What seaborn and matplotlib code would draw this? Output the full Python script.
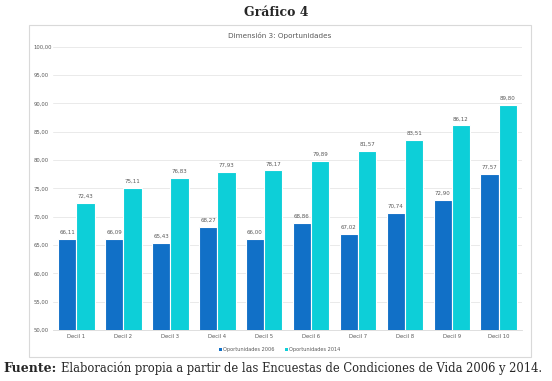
import matplotlib
matplotlib.use("Agg")
import matplotlib.pyplot as plt
import seaborn as sns
import pandas as pd
from matplotlib.patches import Rectangle, Patch

categories = ["Decil 1", "Decil 2", "Decil 3", "Decil 4", "Decil 5",
              "Decil 6", "Decil 7", "Decil 8", "Decil 9", "Decil 10"]
series_names = ["Oportunidades 2006", "Oportunidades 2014"]
values_2006 = [66.11, 66.09, 65.43, 68.27, 66.00, 68.86, 67.02, 70.74, 72.90, 77.57]
values_2014 = [72.43, 75.11, 76.83, 77.93, 78.17, 79.89, 81.57, 83.51, 86.12, 89.80]
yticks = [50, 55, 60, 65, 70, 75, 80, 85, 90, 95, 100]

df = pd.DataFrame({
    "Decil": categories * 2,
    "Serie": [series_names[0]] * len(categories) + [series_names[1]] * len(categories),
    "Valor": values_2006 + values_2014,
})

sns.set_theme(style="white")
plt.rcParams['font.family'] = ['DejaVu Sans']

fig = plt.figure(figsize=(5.52, 3.81), dpi=100)
ax = fig.add_axes([0.096, 0.134, 0.85, 0.743])

colors = ["#1170C7", "#0DCFD8"]
sns.barplot(data=df, x="Decil", y="Valor", hue="Serie", palette=colors, saturation=1,
            width=0.78, edgecolor="white", linewidth=0.8, ax=ax, legend=False)

ax.set_ylim(50, 100)
ax.set_yticks(yticks)
ax.set_yticklabels([f"{v:.2f}".replace(".", ",") for v in yticks], fontsize=3.8, color="#595959")
ax.tick_params(axis='x', labelsize=3.8, colors="#595959", length=0, pad=3)
ax.tick_params(axis='y', length=0, pad=14)
for lbl in ax.get_yticklabels():
    lbl.set_horizontalalignment("left")
ax.set_xlabel("")
ax.set_ylabel("")
ax.grid(axis='y', color="#E6E6E6", linewidth=0.6)
ax.set_axisbelow(True)
for s in ["left", "right", "top"]:
    ax.spines[s].set_visible(False)
ax.spines["bottom"].set_color("#D9D9D9")
ax.spines["bottom"].set_linewidth(0.6)

for cont in ax.containers:
    ax.bar_label(cont, labels=[f"{b.get_height():.2f}".replace(".", ",") for b in cont],
                 fontsize=4.0, color="#595959", padding=3)

# chart frame
fig.patches.append(Rectangle((0.0525, 0.063), 0.909, 0.871, transform=fig.transFigure,
                             fill=False, edgecolor="#D9D9D9", linewidth=0.8, zorder=0))

fig.text(0.507, 0.908, "Dimensión 3: Oportunidades", ha="center", va="center",
         fontsize=5.2, color="#595959")

handles = [Patch(facecolor=c, edgecolor="none") for c in colors]
fig.legend(handles, series_names, loc="center", bbox_to_anchor=(0.507, 0.082),
           ncol=2, frameon=False, fontsize=3.6, handlelength=0.6, handleheight=0.6,
           handletextpad=0.3, columnspacing=2.0, labelcolor="#595959")

fig.text(0.5, 0.968, "Gráfico 4", ha="center", va="center", fontsize=9.0,
         fontweight="bold", family=["DejaVu Serif"])
fig.text(0.006, 0.034, "Fuente:", ha="left", va="center", fontsize=9.0,
         fontweight="bold", family=["DejaVu Serif"])
fig.text(0.111, 0.034, "Elaboración propia a partir de las Encuestas de Condiciones de Vida 2006 y 2014.",
         ha="left", va="center", fontsize=8.3, family=["DejaVu Serif"])

fig.savefig("out.png", dpi=100)
